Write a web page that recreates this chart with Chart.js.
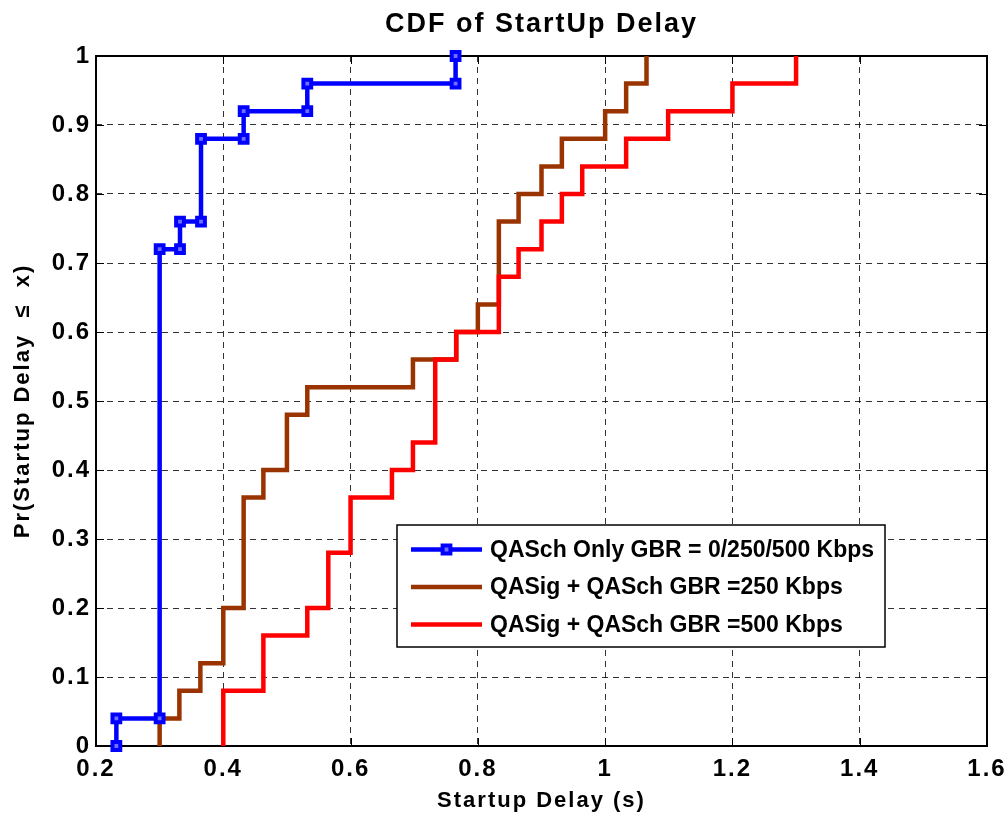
<!DOCTYPE html>
<html>
<head>
<meta charset="utf-8">
<script src="https://cdn.jsdelivr.net/npm/chart.js@4.4.1/dist/chart.umd.min.js"></script>
<style>
  html, body { margin: 0; padding: 0; background: #ffffff; }
  canvas { display: block; }
</style>
</head>
<body>
<canvas id="cdf" width="1008" height="818"></canvas>
<script>
// Empirical CDF of start-up delay: jump positions (s) and the levels between jumps
const qaschX = [0.232, 0.300, 0.332, 0.365, 0.432, 0.532, 0.765];
const qaschLevels = [0, 0.04, 0.72, 0.76, 0.88, 0.92, 0.96, 1.00];

const gbr250X = [0.300, 0.331, 0.364, 0.400, 0.432, 0.463, 0.500, 0.532, 0.698,
                 0.766, 0.800, 0.833, 0.864, 0.900, 0.932, 1.000, 1.033, 1.065];
const gbr250Levels = [0, 0.04, 0.08, 0.12, 0.20, 0.36, 0.40, 0.48, 0.52, 0.56,
                      0.60, 0.64, 0.76, 0.80, 0.84, 0.88, 0.92, 0.96, 1.00];

const gbr500X = [0.400, 0.463, 0.532, 0.565, 0.600, 0.665, 0.698, 0.733, 0.766,
                 0.833, 0.864, 0.900, 0.932, 0.964, 1.033, 1.099, 1.200, 1.300];
const gbr500Levels = [0, 0.08, 0.16, 0.20, 0.28, 0.36, 0.40, 0.44, 0.56, 0.60,
                      0.68, 0.72, 0.76, 0.80, 0.84, 0.88, 0.92, 0.96, 1.00];

const seriesLabels = [
  'QASch Only GBR = 0/250/500 Kbps',
  'QASig + QASch GBR =250 Kbps',
  'QASig + QASch GBR =500 Kbps'
];

const xTickLabels = ['0.2', '0.4', '0.6', '0.8', '1', '1.2', '1.4', '1.6'];
const yTickLabels = ['0', '0.1', '0.2', '0.3', '0.4', '0.5', '0.6', '0.7', '0.8', '0.9', '1'];

// Turn jump positions + levels into stair vertices (vertical rise, then run)
function stairs(xs, levels) {
  const pts = [];
  xs.forEach((x, i) => {
    pts.push({ x: x, y: levels[i] });
    pts.push({ x: x, y: levels[i + 1] });
  });
  return pts;
}

const FONT = "'Liberation Sans', Arial, Helvetica, sans-serif";
Chart.defaults.font.family = FONT;
Chart.defaults.font.weight = 'bold';
Chart.defaults.color = '#000000';

// Wider letter spacing for the axis texts
const spacingPlugin = {
  id: 'spacing',
  beforeDraw(chart) { chart.ctx.letterSpacing = '2px'; },
  afterDraw(chart) { chart.ctx.letterSpacing = '0px'; }
};

// Closed axes box with inward tick marks on all four sides
const framePlugin = {
  id: 'frame',
  beforeDatasetsDraw(chart) {
    const { ctx, chartArea: a, scales } = chart;
    const tick = 8;
    ctx.save();
    ctx.strokeStyle = '#000000';
    ctx.lineWidth = 1;
    ctx.setLineDash([]);
    scales.x.ticks.forEach(t => {
      const px = Math.round(scales.x.getPixelForValue(t.value)) + 0.5;
      ctx.beginPath();
      ctx.moveTo(px, a.bottom); ctx.lineTo(px, a.bottom - tick);
      ctx.moveTo(px, a.top); ctx.lineTo(px, a.top + tick);
      ctx.stroke();
    });
    scales.y.ticks.forEach(t => {
      const py = Math.round(scales.y.getPixelForValue(t.value)) + 0.5;
      ctx.beginPath();
      ctx.moveTo(a.left, py); ctx.lineTo(a.left + tick, py);
      ctx.moveTo(a.right, py); ctx.lineTo(a.right - tick, py);
      ctx.stroke();
    });
    ctx.lineWidth = 2;
    ctx.strokeRect(a.left, a.top, a.right - a.left, a.bottom - a.top);
    ctx.restore();
  }
};

// Boxed legend placed inside the plot, lower right
const boxLegendPlugin = {
  id: 'boxLegend',
  afterDraw(chart) {
    const { ctx, chartArea: a } = chart;
    const w = 488, h = 122;
    const right = a.right - 102, bottom = a.bottom - 99;
    const left = right - w, top = bottom - h;
    ctx.save();
    ctx.letterSpacing = '0px';
    ctx.setLineDash([]);
    ctx.fillStyle = '#ffffff';
    ctx.fillRect(left, top, w, h);
    ctx.strokeStyle = '#000000';
    ctx.lineWidth = 1.5;
    ctx.strokeRect(left, top, w, h);
    chart.data.datasets.forEach((ds, i) => {
      const y = top + 24.5 + i * 37.5;
      ctx.strokeStyle = ds.borderColor;
      ctx.lineWidth = ds.borderWidth;
      ctx.beginPath();
      ctx.moveTo(left + 14, y);
      ctx.lineTo(left + 85, y);
      ctx.stroke();
      if (ds.pointRadius > 0) {
        const s = Math.SQRT1_2 * ds.pointRadius;
        ctx.fillStyle = ds.pointBackgroundColor;
        ctx.strokeStyle = ds.pointBorderColor;
        ctx.lineWidth = ds.pointBorderWidth;
        ctx.beginPath();
        ctx.rect(left + 49.5 - s, y - s, 2 * s, 2 * s);
        ctx.fill();
        ctx.stroke();
      }
      ctx.fillStyle = '#000000';
      ctx.font = 'bold 23px ' + FONT;
      ctx.textBaseline = 'middle';
      ctx.textAlign = 'left';
      ctx.fillText(ds.label, left + 93, y + 1);
    });
    ctx.restore();
  }
};

const lineBase = {
  fill: false,
  tension: 0,
  borderJoinStyle: 'miter',
  borderCapStyle: 'butt',
  clip: false
};

new Chart(document.getElementById('cdf'), {
  type: 'line',
  data: {
    datasets: [
      Object.assign({}, lineBase, {
        label: seriesLabels[0],
        data: stairs(qaschX, qaschLevels),
        borderColor: '#0000ff',
        borderWidth: 4.5,
        pointStyle: 'rect',
        pointRadius: 5.5,
        pointBorderWidth: 4,
        pointBorderColor: '#0000ff',
        pointBackgroundColor: '#7070ff',
        pointHoverRadius: 5.5,
        order: 0
      }),
      Object.assign({}, lineBase, {
        label: seriesLabels[1],
        data: stairs(gbr250X, gbr250Levels),
        borderColor: '#993300',
        borderWidth: 4.5,
        pointRadius: 0,
        pointHoverRadius: 0,
        order: 2
      }),
      Object.assign({}, lineBase, {
        label: seriesLabels[2],
        data: stairs(gbr500X, gbr500Levels),
        borderColor: '#ff0000',
        borderWidth: 4.5,
        pointRadius: 0,
        pointHoverRadius: 0,
        order: 1
      })
    ]
  },
  options: {
    responsive: false,
    animation: false,
    events: [],
    layout: { padding: { left: 0, right: 21, top: 0, bottom: 0 } },
    plugins: {
      legend: { display: false },
      tooltip: { enabled: false },
      title: {
        display: true,
        fullSize: false,
        text: 'CDF of StartUp Delay',
        color: '#000000',
        font: { size: 27, weight: 'bold', family: FONT },
        padding: { top: 8, bottom: 15.6 }
      }
    },
    scales: {
      x: {
        type: 'linear',
        min: 0.2,
        max: 1.6,
        afterFit(scale) {
          scale.height = 72;
          scale.paddingLeft = 0;
          scale.paddingRight = 0;
        },
        ticks: {
          stepSize: 0.2,
          padding: 9,
          maxRotation: 0,
          autoSkip: false,
          color: '#000000',
          font: { size: 24, weight: 'bold' },
          callback: (v, i) => xTickLabels[i]
        },
        grid: {
          color: 'rgba(0,0,0,0.8)',
          lineWidth: 1,
          drawTicks: false
        },
        border: { display: false, dash: [6, 5] },
        title: {
          display: true,
          text: 'Startup Delay (s)',
          color: '#000000',
          font: { size: 22, weight: 'bold' },
          padding: { top: 0, bottom: 4.3 }
        }
      },
      y: {
        type: 'linear',
        min: 0,
        max: 1,
        afterFit(scale) {
          scale.width = 96;
          scale.paddingTop = 0;
          scale.paddingBottom = 0;
        },
        ticks: {
          stepSize: 0.1,
          padding: 5,
          autoSkip: false,
          color: '#000000',
          font: { size: 24, weight: 'bold' },
          callback: (v, i) => yTickLabels[i]
        },
        grid: {
          color: 'rgba(0,0,0,0.8)',
          lineWidth: 1,
          drawTicks: false
        },
        border: { display: false, dash: [6, 5] },
        title: {
          display: true,
          text: 'Pr(Startup Delay  \u2264  x)',
          color: '#000000',
          font: { size: 22, weight: 'bold' },
          padding: { top: 9.5, bottom: 0 }
        }
      }
    }
  },
  plugins: [spacingPlugin, framePlugin, boxLegendPlugin]
});
</script>
</body>
</html>
